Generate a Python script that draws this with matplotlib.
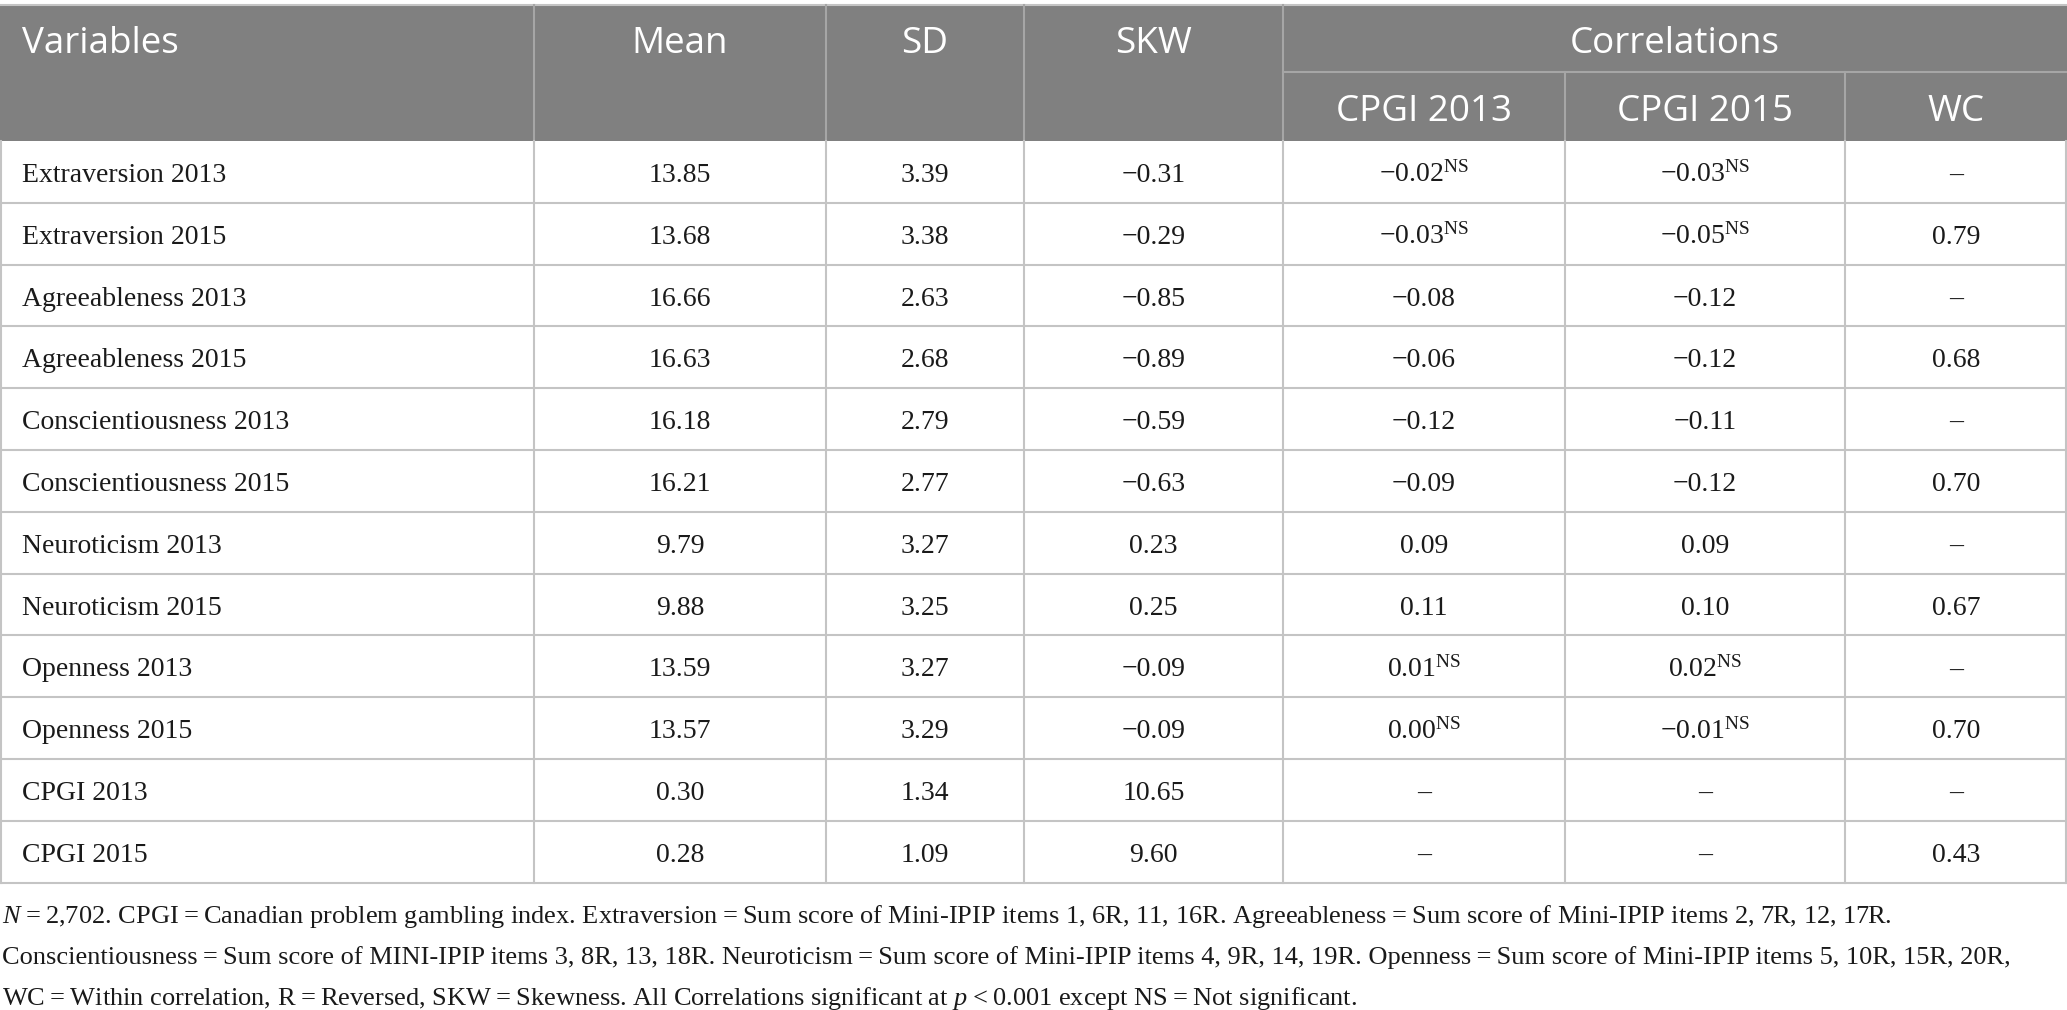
import matplotlib
matplotlib.use("Agg")
import matplotlib.pyplot as plt

plt.rcParams['mathtext.fontset'] = 'custom'
plt.rcParams['mathtext.rm'] = 'Liberation Serif'
plt.rcParams['mathtext.it'] = 'Liberation Serif:italic'

variables = ["Extraversion 2013", "Extraversion 2015", "Agreeableness 2013", "Agreeableness 2015",
             "Conscientiousness 2013", "Conscientiousness 2015", "Neuroticism 2013", "Neuroticism 2015",
             "Openness 2013", "Openness 2015", "CPGI 2013", "CPGI 2015"]
means = [13.85, 13.68, 16.66, 16.63, 16.18, 16.21, 9.79, 9.88, 13.59, 13.57, 0.30, 0.28]
sds = [3.39, 3.38, 2.63, 2.68, 2.79, 2.77, 3.27, 3.25, 3.27, 3.29, 1.34, 1.09]
skws = [-0.31, -0.29, -0.85, -0.89, -0.59, -0.63, 0.23, 0.25, -0.09, -0.09, 10.65, 9.60]
cpgi13 = [-0.02, -0.03, -0.08, -0.06, -0.12, -0.09, 0.09, 0.11, 0.01, 0.00, None, None]
cpgi13_ns = [1, 1, 0, 0, 0, 0, 0, 0, 1, 1, 0, 0]
cpgi15 = [-0.03, -0.05, -0.12, -0.12, -0.11, -0.12, 0.09, 0.10, 0.02, -0.01, None, None]
cpgi15_ns = [1, 1, 0, 0, 0, 0, 0, 0, 1, 1, 0, 0]
wc = [None, 0.79, None, 0.68, None, 0.70, None, 0.67, None, 0.70, None, 0.43]

headers = ["Variables", "Mean", "SD", "SKW"]
group_header = "Correlations"
sub_headers = ["CPGI 2013", "CPGI 2015", "WC"]

footnote = [
    "$N$\u2009=\u20092,702. CPGI\u2009=\u2009Canadian problem gambling index. Extraversion\u2009=\u2009Sum score of "
    "Mini-IPIP items 1, 6R, 11, 16R. Agreeableness\u2009=\u2009Sum score of Mini-IPIP items 2, 7R, 12, 17R.",
    "Conscientiousness\u2009=\u2009Sum score of MINI-IPIP items 3, 8R, 13, 18R. Neuroticism\u2009=\u2009Sum score of "
    "Mini-IPIP items 4, 9R, 14, 19R. Openness\u2009=\u2009Sum score of Mini-IPIP items 5, 10R, 15R, 20R,",
    "WC\u2009=\u2009Within correlation, R\u2009=\u2009Reversed, SKW\u2009=\u2009Skewness. All Correlations significant at "
    "$p$\u2009<\u20090.001 except NS\u2009=\u2009Not significant.",
]


def fmt(v, ns=0):
    if v is None:
        return "\u2013"
    s = f"{v:.2f}".replace("-", "\u2212")
    if ns:
        s += r"$^{\mathrm{NS}}$"
    return s


W, H = 2067, 1010
fig = plt.figure(figsize=(W / 100, H / 100), dpi=100)
ax = fig.add_axes([0, 0, 1, 1])
ax.set_xlim(0, W)
ax.set_ylim(H, 0)
ax.axis("off")
renderer = fig.canvas.get_renderer()


def fit_size(text, family, target_px, base=20):
    # font size that gives the text the width measured on the reference
    t = ax.text(0, 0, text, fontsize=base, family=family)
    w = t.get_window_extent(renderer).width
    t.remove()
    return base * target_px / w


cols = [0, 534, 826, 1024, 1283, 1565, 1845, W]
head_top, head_mid, head_bot = 5, 72, 141
row_h = 61.8
n = len(variables)
tab_bot = head_bot + n * row_h

hdr_gray = "#808080"
sep_hdr = "#a6a6a6"
grid = "#c4c4c4"
ink = "#1a1a1a"
serif = ["Liberation Serif", "DejaVu Serif"]
sans = ["Open Sans", "DejaVu Sans"]

hsize = fit_size(group_header, sans, 210)
bsize = fit_size(variables[0], serif, 204)
fsize = fit_size(footnote[0], serif, 1890)

# header background
ax.add_patch(plt.Rectangle((0, head_top), W, head_bot - head_top, color=hdr_gray, lw=0))
ax.plot([0, W], [head_top, head_top], color=grid, lw=1.5)
for x in cols[1:-1]:
    y0 = head_mid if x in (1565, 1845) else head_top
    ax.plot([x, x], [y0, head_bot], color=sep_hdr, lw=1.5)
ax.plot([cols[4], W], [head_mid, head_mid], color=sep_hdr, lw=1.5)

top_base, sub_base = 53, 121
ax.text(22, top_base, headers[0], ha="left", va="baseline", color="white", fontsize=hsize, family=sans)
for i, h in enumerate(headers[1:], start=1):
    ax.text((cols[i] + cols[i + 1]) / 2, top_base, h, ha="center", va="baseline", color="white",
            fontsize=hsize, family=sans)
ax.text((cols[4] + cols[7]) / 2, top_base, group_header, ha="center", va="baseline", color="white",
        fontsize=hsize, family=sans)
for j, h in enumerate(sub_headers):
    ax.text((cols[4 + j] + cols[5 + j]) / 2, sub_base, h, ha="center", va="baseline", color="white",
            fontsize=hsize, family=sans)

# body grid
for r in range(1, n + 1):
    y = head_bot + r * row_h
    ax.plot([0, W], [y, y], color=grid, lw=1.5)
for x in cols:
    xx = min(max(x, 0.8), W - 0.8)
    ax.plot([xx, xx], [head_bot, tab_bot], color=grid, lw=1.5)

for r in range(n):
    yb = head_bot + r * row_h + 41
    ax.text(22, yb, variables[r], ha="left", va="baseline", fontsize=bsize, family=serif, color=ink)
    cells = [fmt(means[r]), fmt(sds[r]), fmt(skws[r]), fmt(cpgi13[r], cpgi13_ns[r]),
             fmt(cpgi15[r], cpgi15_ns[r]), fmt(wc[r])]
    for c, s in enumerate(cells, start=1):
        ax.text((cols[c] + cols[c + 1]) / 2, yb, s, ha="center", va="baseline", fontsize=bsize,
                family=serif, color=ink)

for k, line in enumerate(footnote):
    ax.text(2, 923 + k * 41, line, ha="left", va="baseline", fontsize=fsize, family=serif, color=ink)

fig.savefig("out.png", dpi=100)
